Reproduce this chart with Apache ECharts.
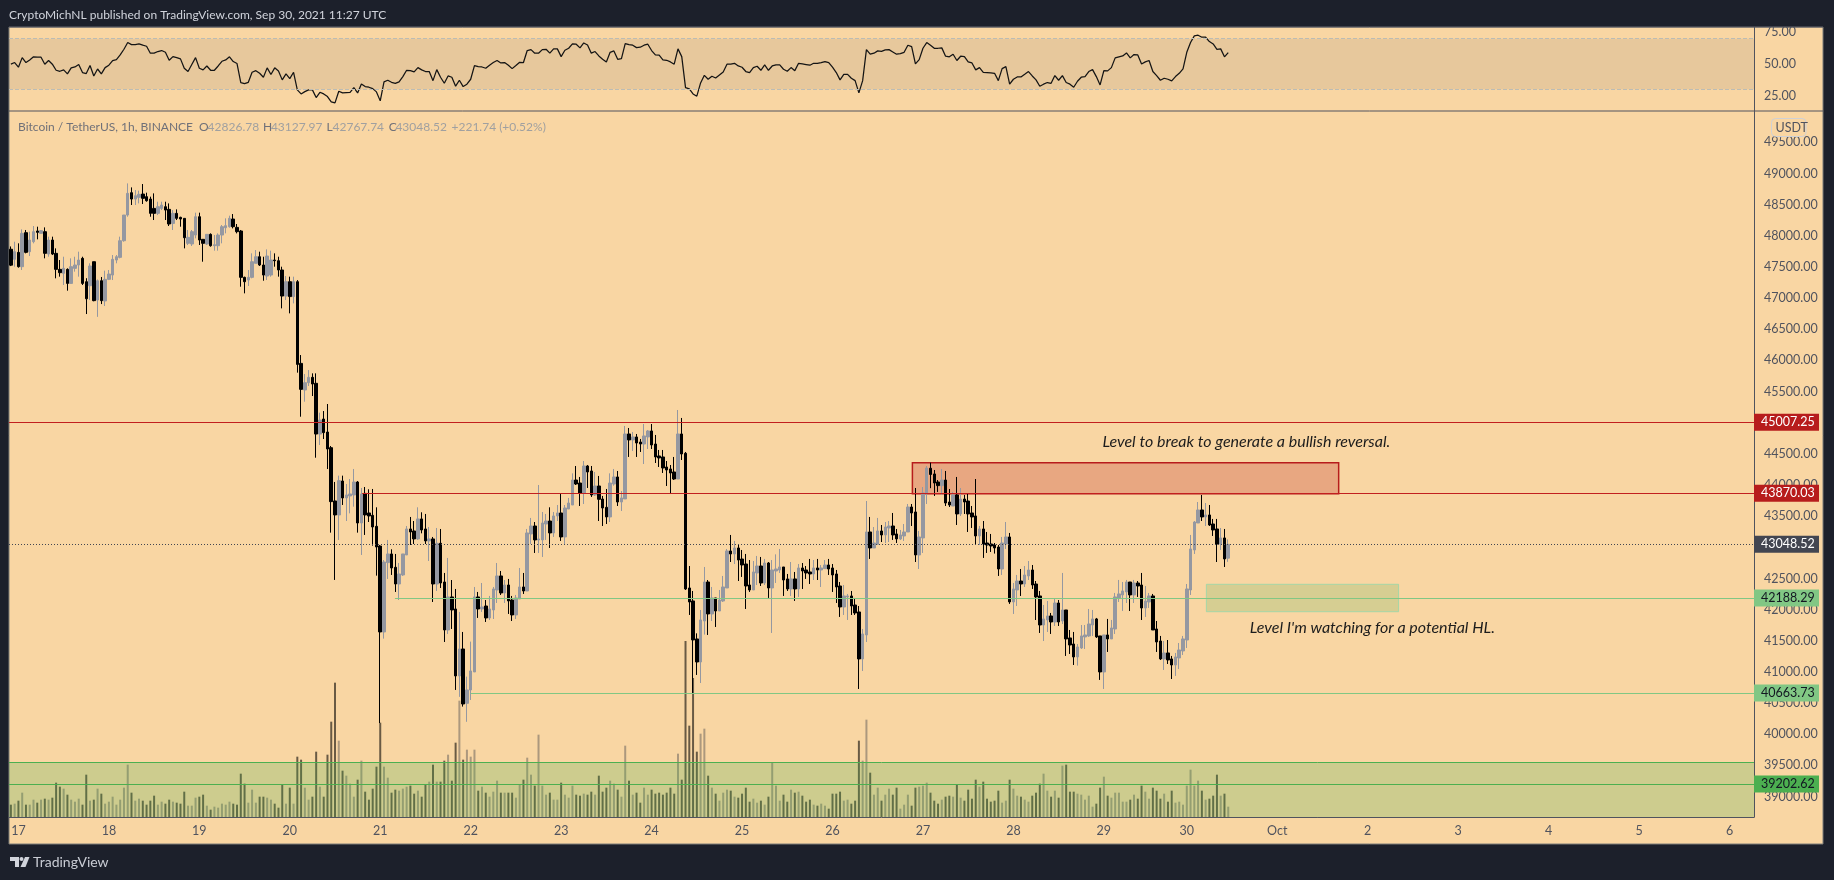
<!DOCTYPE html>
<html><head><meta charset="utf-8">
<style>html,body{margin:0;padding:0;background:#1c202b}#c{width:1834px;height:880px}</style>
<script src="https://cdn.jsdelivr.net/npm/echarts@6/dist/echarts.min.js"></script>
</head><body><div id="c"></div>
<script>
// Hourly bars, left to right, Sep 16 22:00 to Sep 30 11:00 UTC
const opens=[47785,47623,47735,47505,48051,47746,47906,48078,48040,48067,
47708,47933,47719,47462,47398,47462,47237,47478,47532,47639,
47264,47200,47585,46970,47280,46955,47302,47371,47612,47655,
47922,48334,48693,48591,48618,48671,48629,48591,48441,48361,
48441,48468,48425,48200,48361,48297,48281,47880,47869,48013,
48307,47944,47869,48024,47842,47842,48013,48131,48147,48270,
48136,48078,47334,47291,47334,47559,47665,47532,47355,47371,
47612,47601,47452,47034,47264,47025,47264,45953,45526,45643,
45729,45633,44819,45060,44851,44600,43745,43520,44065,43793,
43825,43841,44049,43391,43867,43552,43514,43338,43022,41642,
42755,42894,42680,42412,42557,42878,43295,43263,43135,43456,
43295,43103,43135,42412,43065,42444,41674,42204,42011,40936,
41369,40497,40711,41000,42204,42011,42059,41867,41995,42316,
42541,42268,42396,42155,41915,42172,42364,42300,43215,43343,
43119,43119,43375,43423,43231,43504,43552,43167,43616,43680,
44081,44033,43873,44306,44226,43841,43985,43776,43643,43488,
44017,44130,43728,43777,44820,44724,44772,44691,44659,44772,
44868,44659,44467,44451,44290,44258,44210,44097,44820,44510,
42348,42140,41530,41160,41818,42444,41931,42188,41979,42139,
42348,42942,42894,42990,42813,42733,42396,42316,42589,42701,
42428,42749,42348,42621,42637,42685,42493,42332,42493,42332,
42669,42637,42605,42573,42669,42637,42659,42717,42669,42573,
42380,42043,42204,42220,42075,41963,41209,41594,43247,42990,
43049,43263,43199,43311,43343,43215,43135,43183,43247,43648,
43568,42878,43151,43857,44270,44178,44049,43991,44081,43728,
43664,43841,43536,43776,43744,43552,43504,43183,43295,43070,
43054,43038,43006,42653,43054,43167,42124,42316,42460,42412,
42541,42637,42412,42220,41754,41835,41899,41802,42107,41818,
41995,41546,41449,41241,41385,41562,41578,41754,41851,41578,
41000,41594,41530,41690,42188,42236,42284,42444,42236,42428,
42396,42027,42123,42220,41690,41497,41209,41305,41209,41112,
41225,41337,41513,42316,42958,43391,43600,43488,43520,43375,
43295,43054,43151,42826.78];
const closes=[47530,47746,47505,48040,47735,47933,48067,48056,48083,47719,
47933,47708,47462,47409,47478,47237,47505,47532,47612,47237,
46990,47516,46960,47280,46960,47302,47387,47623,47665,47922,
48334,48682,48591,48644,48666,48602,48564,48361,48361,48468,
48495,48414,48190,48361,48281,48270,47970,47976,48067,48307,
47933,47880,48024,47842,47858,48013,48147,48163,48281,48147,
48067,47334,47264,47334,47585,47665,47532,47371,47676,47612,
47601,47452,47034,47264,47025,47264,45937,45536,45643,45729,
45622,44819,45044,44841,44579,43734,43520,44071,43793,43841,
43857,44049,43391,43857,43520,43504,43327,43006,41642,42765,
42894,42669,42412,42573,42894,43295,43247,43135,43456,43279,
43103,43135,42412,43065,42428,41674,42204,41995,40936,41369,
40486,40711,41016,42204,42011,42043,41867,42011,42332,42541,
42268,42396,42140,41915,42188,42364,42300,43231,43343,43119,
43135,43391,43423,43231,43504,43552,43167,43632,43712,44081,
44017,43873,44306,44210,43841,43985,43771,43632,43488,44033,
44130,43728,43793,44820,44724,44772,44675,44659,44788,44868,
44643,44451,44435,44274,44242,44194,44097,44820,44499,42332,
42123,41514,41160,41835,42444,41931,42188,41979,42155,42364,
42942,42894,42990,42797,42717,42380,42316,42605,42701,42428,
42749,42348,42637,42653,42685,42476,42332,42493,42332,42669,
42621,42589,42573,42669,42637,42669,42717,42653,42557,42364,
42043,42220,42220,42059,41947,41209,41610,43247,42990,43070,
43263,43199,43327,43343,43199,43135,43199,43247,43648,43552,
42878,43167,43873,44274,44170,44033,43991,44081,43712,43680,
43841,43536,43776,43728,43536,43488,43183,43295,43054,43038,
43022,42990,42653,43070,43167,42124,42332,42460,42412,42557,
42637,42396,42204,41754,41851,41899,41802,42107,41802,41995,
41530,41433,41241,41401,41578,41594,41770,41851,41562,41000,
41594,41530,41706,42204,42252,42300,42444,42236,42428,42380,
42027,42139,42220,41674,41481,41209,41305,41193,41112,41241,
41353,41530,42332,42974,43407,43600,43488,43520,43359,43279,
43054,43151,42814,43048.52];
const highs=[47830,47906,47880,48104,48094,48067,48158,48147,48094,48136,
47987,47987,47799,47612,47665,47478,47639,47665,47746,47665,
47320,47559,47585,47300,47340,47441,47452,47692,47692,47987,
48334,48842,48778,48735,48725,48832,48693,48629,48682,48548,
48548,48548,48521,48414,48425,48307,48281,48094,48094,48372,
48372,47944,48024,48040,48013,48040,48174,48281,48324,48350,
48190,48094,47345,47452,47719,47772,47746,47665,47783,47762,
47719,47665,47505,47355,47345,47345,47290,46087,45782,45846,
45793,45793,45162,45188,45301,44627,44050,44151,44151,44017,
44097,44258,44065,43953,43969,43932,43937,43643,43038,42797,
43119,42969,42894,42749,42894,43343,43488,43423,43643,43563,
43536,43327,43167,43311,43295,42589,42830,42476,42332,41963,
41642,40925,41487,42364,42284,42428,42155,42220,42364,42749,
42621,42476,42493,42220,42236,42669,42589,43295,43472,43407,
44001,43568,43536,43643,43568,43680,43857,43680,43793,44188,
44306,44130,44386,44322,44306,44210,44146,43825,43937,44188,
44258,44226,43905,44948,44916,44852,44820,44740,44980,44884,
44980,44804,44563,44563,44386,44322,44451,45205,45077,44531,
42701,42300,41620,41995,42685,42476,42364,42188,42316,42541,
42974,43199,43103,43038,42958,42894,42797,42781,42862,42846,
42814,42765,42797,42888,42974,42685,42573,42765,42605,42733,
42749,42701,42814,42797,42814,42717,42797,42814,42733,42637,
42444,42396,42252,42300,42188,42059,41690,43744,43488,43327,
43472,43359,43407,43423,43552,43295,43279,43375,43696,43696,
43953,43263,43969,44306,44360,44242,44081,44258,44226,43937,
43889,44130,43953,43841,43857,43664,44097,43343,43423,43247,
43215,43070,43038,43167,43407,43231,42428,42557,42653,42701,
42781,42717,42460,42300,42075,42139,41947,42172,42155,42589,
41995,41674,41642,41449,41754,41754,42011,41995,41867,41578,
41594,41851,41835,42268,42477,42444,42477,42444,42477,42460,
42589,42380,42268,42252,41818,41578,41497,41513,41257,41305,
41465,41578,42412,43199,43423,43728,43841,43712,43680,43456,
43456,43311,43295,43127.97];
const lows=[47515,47505,47490,47452,47719,47676,47880,47944,48040,47639,
47665,47692,47318,47345,47211,47120,47237,47425,47345,47211,
46745,46970,46950,46700,46905,46874,47290,47291,47559,47639,
47906,48307,48495,48495,48521,48511,48548,48307,48254,48334,
48414,48254,48158,48094,48254,48147,47799,47853,47837,47960,
47853,47585,47853,47826,47762,47762,47880,48040,48131,48120,
48040,47184,47077,47195,47318,47559,47516,47280,47291,47345,
47505,47345,46836,46970,46756,46916,45804,45097,45338,45590,
45429,44439,44643,44739,44257,43236,42477,43119,43680,43423,
43546,43653,43236,42878,43199,43407,43027,42546,40180,41535,
42493,42557,42284,42155,42541,42878,43038,43054,43119,43225,
43054,42781,42123,42300,42348,41481,41610,41690,40711,40600,
40444,40200,40550,41000,41867,41963,41802,41834,41850,42107,
42236,42107,41931,41818,41850,42172,42252,42300,43054,42910,
42910,42846,43119,42990,43167,43423,43103,43038,43616,43680,
44001,43664,43696,43953,43809,43825,43423,43343,43375,43407,
43990,43664,43584,43777,44451,44547,44451,44531,44338,44579,
44579,44354,44290,44194,43985,43867,44081,44097,44402,42316,
41915,40657,40952,40823,41600,41594,41818,41722,41979,42123,
42348,42765,42733,42460,42525,42011,42284,42316,42396,42380,
42396,42188,41626,42428,42589,42220,42300,42220,42140,42204,
42332,42493,42412,42476,42476,42364,42653,42557,42284,42107,
41883,41915,41835,41915,41915,40727,41016,41481,42814,42990,
43049,43086,43070,43086,43119,43070,43119,43103,43247,43343,
42765,42653,42910,43696,43950,43825,43889,43841,43664,43648,
43664,43359,43504,43536,43247,43311,43038,43038,42830,42910,
42926,42900,42541,42557,42974,42092,41931,42059,42220,42364,
42476,42332,41834,41626,41497,41642,41610,41738,41738,41770,
41257,41289,41112,41102,41369,41369,41562,41578,41546,40872,
40727,41321,41530,41610,42123,41979,42107,41979,42107,42204,
41834,41883,42027,41674,41321,41192,41032,41128,40887,40936,
41048,41273,41385,42236,42894,43391,43423,43343,43343,43183,
42765,42958,42685,42767.74];
// Relative volume, one per bar
const volumes=[37,40,49,73,37,37,52,43,52,55,
52,58,103,91,85,67,52,46,55,37,
127,49,52,85,70,40,46,61,37,52,
88,157,73,49,55,49,37,49,64,37,
46,40,52,46,43,40,76,34,34,58,
61,67,34,22,31,28,40,37,46,40,
37,130,100,43,82,43,61,61,58,52,
40,28,97,40,88,40,181,172,88,52,
61,196,91,61,187,286,403,229,139,124,
100,61,112,169,76,52,85,151,283,151,
118,73,82,79,85,91,94,70,79,61,
97,106,157,106,106,169,187,109,223,349,
172,202,181,202,79,91,73,61,76,109,
73,73,73,73,58,97,112,178,127,94,
247,94,67,73,52,52,103,67,58,94,
67,64,70,67,76,67,124,76,88,109,
100,82,61,214,109,67,73,43,88,67,
82,70,73,67,73,88,70,190,112,528,
274,417,196,250,265,124,88,70,49,73,
82,79,61,58,70,88,46,55,43,49,
37,61,163,94,49,67,46,82,73,76,
64,46,52,37,34,40,34,25,70,70,
76,49,52,40,49,229,169,292,133,67,
88,49,67,85,67,88,25,37,67,34,
88,91,94,103,73,49,40,52,61,64,
61,98,58,49,82,55,112,91,106,55,
46,49,79,43,49,112,85,64,61,52,
46,64,73,100,130,79,61,79,58,154,
157,76,76,70,67,52,64,31,40,88,
121,64,58,73,73,46,46,52,67,55,
94,76,55,88,79,55,70,46,79,43,
46,37,94,142,94,109,79,52,55,64,
127,64,70,31];
const rsiValues=[49.8,51.1,47.4,55,51.1,53.2,55.6,55.3,55.3,49.8,
52.7,49.8,45,44.2,45.3,42.1,46.9,47.6,49.5,43.2,
42.4,48.7,40.5,46,42.1,47.1,49,52.7,53.4,57.1,
61.6,66.9,65.3,65.3,65.8,64.8,64,58.5,58.5,59.8,
60.6,59.2,52.9,55.8,55,54,46.6,44,49.5,55,
46.6,45.3,48.4,45,45,48.4,52.1,53.2,55.6,51.9,
50.3,35.3,34.5,35.5,43.4,44.7,42.6,39.5,46.9,41.6,
46.9,44.5,37.4,42.1,38.4,43.4,29.5,26.3,28.1,29.5,
29.5,23.4,27.6,26.3,24.2,20,19.2,28.4,27.1,27.4,
27.6,31.3,27.1,34.2,32.1,31.6,30.5,27.9,20.8,35.8,
37.1,35.5,34.7,35.8,40,45,44.7,43.7,47.1,45.3,
44,44,36.8,45.5,39.5,34.7,40.5,39.5,32.4,37.1,
32.1,34,37.9,48.7,47.9,47.6,46.6,49,51.1,52.7,
50.8,51.1,49,46.3,48.7,51.3,51.1,60.6,61.3,58.5,
58.5,61.3,61.6,58.5,61.9,61.9,55.8,60.8,62.4,65.8,
65.6,62.7,66.6,65,58.5,59.8,56.3,53.7,51.6,59.2,
60.3,53.7,54.2,66.1,65.3,64.8,62.9,
63.2,64.8,65.6,60.6,57.1,56.9,53.2,52.9,51.6,49.8,
61.9,55.8,31.3,30.3,26.3,24.5,35,41,37.9,40.3,
38.9,41.3,43.7,49.8,49.8,50.5,48.4,47.4,44,43.2,
47.1,48.2,45,49.2,45,48.4,49.2,49.2,45.8,44.2,
47.1,44.7,50.5,50,49.5,49,50.5,50.5,51.1,51.9,
51.1,47.4,43.2,37.4,41.8,41.8,38.7,36.8,27.1,36.8,
61.3,57.7,58.5,60.3,60,61.1,61.3,59.5,57.7,58.2,
59.2,64.8,63.7,50,53.4,62.4,66.9,64.8,62.4,62.4,
62.7,56.1,55.6,57.7,52.7,56.1,55.8,51.6,50.8,45.3,
47.1,43.4,43.2,42.9,42.6,36.8,46.3,47.9,34,37.9,
39.7,39.7,41.8,44,40.5,37.4,32.4,34,35.3,34.7,
40.8,37.1,40.8,35.3,34,31.6,36.3,39.5,40,44,
45.5,40,33.4,44.7,44.5,47.1,54.8,55.6,56.3,58.7,
54.8,57.4,57.1,50,51.6,52.7,44,40.8,37.1,38.7,
37.9,36.6,40,42.6,46.1,59.2,66.9,72.2,72.7,71.1,
71.1,67.7,65.8,61.6,61.9,55.6,59];
// Time axis: bar slots and the day labels (two hourly bars are missing on Sep 29)
const dayTickBars=[2,26,50,74,98,122,146,170,194,218,242,266,290,312,336,360,384,408,432,456];
const dayLabels=['17','18','19','20','21','22','23','24','25','26','27','28','29','30','Oct','2','3','4','5','6'];
const priceTicks=[39000,39500,40000,40500,41000,41500,42000,42500,43000,43500,44000,44500,45000,45500,46000,46500,47000,47500,48000,48500,49000,49500];
const rsiTicks=[25,50,75];
// Horizontal levels: price and the bar where the level starts
const levelPrices=[45007.25,43870.03,43048.52,42188.29,40663.73,39202.62];
const levelStartBars=[-0.5,93.2,-0.5,101.9,122,-0.5];
const zoneTop=39543;
const resistanceBox=[239.2,352.3,44359,43860];
const supportBox=[317.2,368.2,42407,41967];
const noteBreak='Level to break to generate a bullish reversal.';
const noteWatch="Level I'm watching for a potential HL.";
const notePoints=[[289.5,44691],[328.6,41706]];
const changeText='+221.74 (+0.52%)';

const FONT='Lato, "Noto Sans", sans-serif';
const UP='#9598a1',DOWN='#000000',AXC='#50535e',XMIN=-0.5,XMAX=462.5;
const levelStyle=[
 {line:'#c21f1f',bg:'#b71c1c',fg:'#ffffff',type:'solid'},
 {line:'#c21f1f',bg:'#b71c1c',fg:'#ffffff',type:'solid'},
 {line:'#434651',bg:'#434651',fg:'#ffffff',type:[1,2]},
 {line:'#81c784',bg:'#81c784',fg:'#131722',type:'solid'},
 {line:'#81c784',bg:'#81c784',fg:'#131722',type:'solid'},
 {line:'#4caf50',bg:'#4caf50',fg:'#131722',type:'solid'}];

const candleData=opens.map((o,i)=>[i,o,closes[i],lows[i],highs[i]]);
const volData=volumes.map((v,i)=>({value:[i,v],itemStyle:{color:closes[i]>=opens[i]?'rgba(120,110,100,0.6)':'rgba(0,0,0,0.58)'}}));
const rsiData=rsiValues.map((v,i)=>[i,v]);

const levelLines=levelPrices.map((p,k)=>[
 {coord:[levelStartBars[k],p],lineStyle:{color:levelStyle[k].line,type:levelStyle[k].type,width:1.2},
  label:{show:true,position:'end',distance:0,formatter:p.toFixed(2),color:levelStyle[k].fg,backgroundColor:levelStyle[k].bg,
   padding:[3,4,2,7],fontSize:12.5,fontFamily:FONT,width:54,height:12,lineHeight:12,align:'left',verticalAlign:'middle'}},
 {coord:[XMAX,p]}]);
levelLines.push([{coord:[XMIN,zoneTop],lineStyle:{color:'#4caf50',type:'solid',width:1},label:{show:false}},{coord:[XMAX,zoneTop]}]);

const txt=(text,x,y,fill,font)=>({type:'text',x,y,z:110,silent:true,style:{text,fill,font:font||('12.5px '+FONT),verticalAlign:'middle'}});
const last=opens.length-1;
const legendParts=[['O',opens[last],199,207.6],['H',highs[last],263,270.9],['L',lows[last],326.6,332.5],['C',closes[last],388.7,395.4]];
const LEG='12px '+FONT;
const graphicEls=[
 {type:'rect',z:-5,silent:true,shape:{x:9,y:27,width:1814,height:817},style:{fill:'#f9d6a3',stroke:'#7d7d78',lineWidth:1}},
 {type:'rect',z:100,silent:true,shape:{x:0,y:0,width:1834,height:26.5},style:{fill:'#1c202b'}},
 {type:'line',z:101,silent:true,shape:{x1:9,y1:27,x2:1823,y2:27},style:{stroke:'#50535e',lineWidth:1}},
 {type:'line',z:10,silent:true,shape:{x1:9,y1:111,x2:1823,y2:111},style:{stroke:AXC,lineWidth:1}},
 txt('CryptoMichNL published on TradingView.com, Sep 30, 2021 11:27 UTC',9,14.7,'#d1d4dc','12px '+FONT),
 txt('Bitcoin / TetherUS, 1h, BINANCE',18,126.7,'#6f7078',LEG),
 txt(changeText,451.5,126.7,'#a0a0a0',LEG),
 txt('TradingView',33,862.5,'#c9ccd4','14px '+FONT),
 {type:'rect',z:105,silent:true,shape:{x:1771.5,y:118.5,width:34.5,height:18,r:4},style:{fill:'rgba(0,0,0,0)',stroke:'#cfd1d6',lineWidth:1}},
 txt('USDT',1775.5,127.5,AXC,'12.5px '+FONT),
 {type:'polygon',z:105,silent:true,shape:{points:[[10,857],[19,857],[19,867],[15,867],[15,861],[10,861]]},style:{fill:'#d1d4dc'}},
 {type:'circle',z:105,silent:true,shape:{cx:21.5,cy:859,r:2},style:{fill:'#d1d4dc'}},
 {type:'polygon',z:105,silent:true,shape:{points:[[25,857],[29.5,857],[25.5,867],[20.5,867]]},style:{fill:'#d1d4dc'}}
];
legendParts.forEach(a=>{graphicEls.push(txt(a[0],a[2],126.7,'#6f7078',LEG));graphicEls.push(txt(a[1].toFixed(2),a[3],126.7,'#a0a0a0',LEG));});

const noteLabel=(text)=>({show:true,position:'right',distance:0,formatter:text,fontFamily:FONT,fontStyle:'italic',fontSize:16,color:'#1c1c1c'});

const chart=echarts.init(document.getElementById('c'),null,{renderer:'canvas'});
chart.setOption({
 animation:false,backgroundColor:'#1c202b',
 graphic:{elements:graphicEls},
 grid:[
  {left:9,top:111,width:1745,height:706,outerBoundsMode:'none',containLabel:false,show:false},
  {left:9,top:27,width:1745,height:84,outerBoundsMode:'none',containLabel:false,show:false}],
 xAxis:[
  {type:'value',gridIndex:0,min:XMIN,max:XMAX,splitLine:{show:false},axisTick:{show:false},
   axisLine:{show:true,onZero:false,lineStyle:{color:AXC,width:1}},
   axisLabel:{customValues:dayTickBars,formatter:v=>dayLabels[dayTickBars.indexOf(v)]||'',color:AXC,fontFamily:FONT,fontSize:12.5,margin:7,hideOverlap:false}},
  {type:'value',gridIndex:1,min:XMIN,max:XMAX,show:false,splitLine:{show:false}}],
 yAxis:[
  {type:'value',gridIndex:0,position:'right',min:38672,max:50004,splitLine:{show:false},axisTick:{show:false},
   axisLine:{show:true,onZero:false,lineStyle:{color:AXC,width:1}},
   axisLabel:{customValues:priceTicks,formatter:v=>v.toFixed(2),color:AXC,fontFamily:FONT,fontSize:12.5,margin:10}},
  {type:'value',gridIndex:0,min:0,max:2118,show:false,splitLine:{show:false}},
  {type:'value',gridIndex:1,position:'right',min:12.8,max:79.2,splitLine:{show:false},axisTick:{show:false},
   axisLine:{show:true,onZero:false,lineStyle:{color:AXC,width:1}},
   axisLabel:{customValues:rsiTicks,formatter:v=>v.toFixed(2),color:AXC,fontFamily:FONT,fontSize:12.5,margin:10}}],
 series:[
  {type:'bar',name:'Volume',xAxisIndex:0,yAxisIndex:1,data:volData,barWidth:2,z:1,silent:true},
  {type:'candlestick',name:'BTCUSDT',xAxisIndex:0,yAxisIndex:0,data:candleData,barWidth:3,z:3,silent:true,
   itemStyle:{color:UP,color0:DOWN,borderColor:UP,borderColor0:DOWN,borderWidth:1},
   markArea:{silent:true,z:2,data:[
    [{coord:[XMIN,zoneTop],itemStyle:{color:'rgba(76,175,80,0.25)',borderWidth:0}},{coord:[XMAX,38672]}],
    [{coord:[resistanceBox[0],resistanceBox[2]],itemStyle:{color:'rgba(183,28,28,0.25)',borderColor:'#b71c1c',borderWidth:1.5}},{coord:[resistanceBox[1],resistanceBox[3]]}],
    [{coord:[supportBox[0],supportBox[2]],itemStyle:{color:'rgba(76,175,80,0.2)',borderColor:'#a5d6a7',borderWidth:1}},{coord:[supportBox[1],supportBox[3]]}]
   ]},
   markLine:{silent:true,symbol:'none',z:6,animation:false,data:levelLines},
   markPoint:{silent:true,z:7,symbol:'circle',symbolSize:1,itemStyle:{color:'rgba(0,0,0,0)'},data:[
    {coord:notePoints[0],label:noteLabel(noteBreak)},
    {coord:notePoints[1],label:noteLabel(noteWatch)}]}},
  {type:'line',name:'RSI',xAxisIndex:1,yAxisIndex:2,data:rsiData,showSymbol:false,symbol:'none',smooth:false,z:4,silent:true,
   lineStyle:{color:'#141414',width:1.25},
   markArea:{silent:true,z:1,data:[[{coord:[XMIN,70],itemStyle:{color:'rgba(130,120,120,0.15)'}},{coord:[XMAX,30]}]]},
   markLine:{silent:true,symbol:'none',label:{show:false},lineStyle:{color:'#bcbcb4',type:'dashed',width:1},data:[
    [{coord:[XMIN,70]},{coord:[XMAX,70]}],[{coord:[XMIN,30]},{coord:[XMAX,30]}]]}}
 ]
});
</script></body></html>
